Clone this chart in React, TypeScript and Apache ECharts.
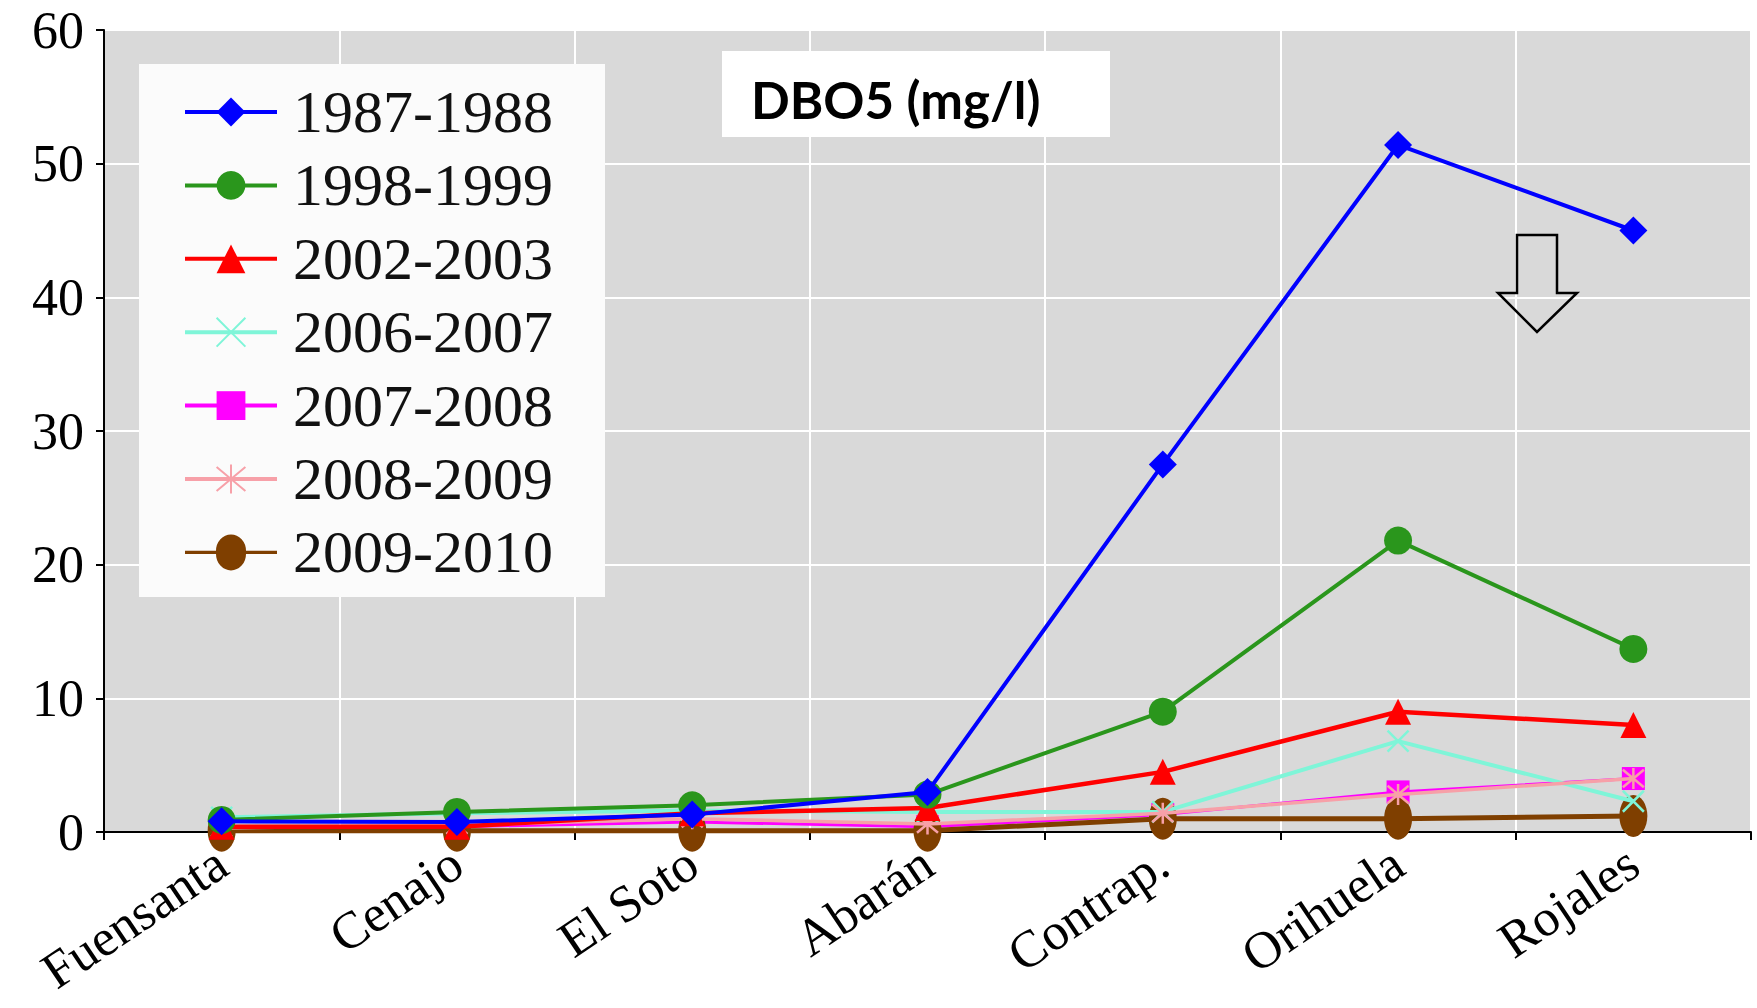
import React, { useEffect, useRef } from "react";
import * as echarts from "echarts";

const categories = ["Fuensanta", "Cenajo", "El Soto", "Abarán", "Contrap.", "Orihuela", "Rojales"];
const seriesNames = ["1987-1988", "1998-1999", "2002-2003", "2006-2007", "2007-2008", "2008-2009", "2009-2010"];
const v19871988 = [0.8, 0.75, 1.3, 3.0, 27.5, 51.4, 45.0];
const v19981999 = [0.9, 1.5, 2.0, 2.8, 9.0, 21.8, 13.7];
const v20022003 = [0.4, 0.4, 1.4, 1.8, 4.5, 9.0, 8.0];
const v20062007 = [1.1, 1.4, 1.6, 1.5, 1.5, 6.8, 2.3];
const v20072008 = [0.3, 0.4, 0.75, 0.4, 1.3, 3.0, 4.0];
const v20082009 = [0.3, 0.5, 1.0, 0.6, 1.4, 2.8, 4.0];
const v20092010 = [0.1, 0.1, 0.1, 0.1, 1.0, 1.0, 1.2];
const yMin = 0;
const yMax = 60;
const yInterval = 10;
const titleText = "DBO5 (mg/l)";

const values = [v19871988, v19981999, v20022003, v20062007, v20072008, v20082009, v20092010];
const colors = ["#0000ff", "#2a961c", "#ff0000", "#7ff5d8", "#ff00ff", "#f7a0a8", "#7f3f00"];
const symbols = [
  "diamond",
  "circle",
  "triangle",
  "path://M0,0L10,10M10,0L0,10",
  "rect",
  "path://M0,0L10,10M10,0L0,10M5,-1L5,11",
  "path://M10,0A10,14,0,1,1,10,28A10,14,0,1,1,10,0Z",
];
const symbolSizes: any[] = [28, 28, 26, 21, 23, 21, [28, 42]];
const lineWidths = [4, 4, 4.5, 4, 3, 3.5, 5];
const zs = [9, 8, 7, 4, 2, 5, 3];
// legend icon for the brown series: line + tall ellipse
const brownLegendIcon =
  "path://M0,19.5L31,19.5A15,21.5,0,0,1,61,19.5L92,19.5L92,23.5L61,23.5A15,21.5,0,0,1,31,23.5L0,23.5Z";

export default function App() {
  const ref = useRef<HTMLDivElement>(null);
  useEffect(() => {
    if (!ref.current) return;
    const chart = echarts.init(ref.current, null, { renderer: "svg" });
    const series = seriesNames.map((name, i) => ({
      name,
      type: "line",
      data: values[i],
      symbol: symbols[i],
      symbolSize: symbolSizes[i],
      showAllSymbol: true,
      z: zs[i],
      lineStyle: { color: colors[i], width: lineWidths[i] },
      itemStyle:
        i === 3 || i === 5
          ? { color: colors[i], borderColor: colors[i], borderWidth: 2.5 }
          : { color: colors[i], borderWidth: 0 },
      emphasis: { disabled: true },
    }));
    const legendData: any[] = seriesNames.map((n, i) =>
      i === 6 ? { name: n, icon: brownLegendIcon } : n
    );
    chart.setOption({
      animation: false,
      grid: {
        left: 104,
        right: 6,
        top: 30,
        bottom: 176,
        containLabel: false,
        outerBoundsMode: "none",
        show: true,
        backgroundColor: "#d9d9d9",
        borderWidth: 0,
      },
      xAxis: {
        type: "category",
        data: categories,
        boundaryGap: true,
        axisLine: { lineStyle: { color: "#000", width: 2 } },
        axisTick: { show: true, length: 8, lineStyle: { color: "#000", width: 2 } },
        axisLabel: {
          rotate: 34,
          margin: 26,
          interval: 0,
          fontFamily: "Liberation Serif",
          fontSize: 52,
          color: "#000",
        },
        splitLine: { show: true, lineStyle: { color: "#ffffff", width: 2 } },
      },
      yAxis: {
        type: "value",
        min: yMin,
        max: yMax,
        interval: yInterval,
        axisLine: { show: true, lineStyle: { color: "#000", width: 2 } },
        axisTick: { show: true, length: 8, lineStyle: { color: "#000", width: 2 } },
        axisLabel: {
          margin: 20,
          fontFamily: "Liberation Serif",
          fontSize: 52,
          color: "#000",
        },
        splitLine: { show: true, lineStyle: { color: "#ffffff", width: 2 } },
      },
      legend: {
        orient: "vertical",
        left: 183,
        top: 82,
        padding: 0,
        itemWidth: 92,
        itemHeight: 36,
        itemGap: 13.4,
        selectedMode: false,
        symbolKeepAspect: false,
        data: legendData,
        lineStyle: { width: 4 },
        textStyle: {
          fontFamily: "Liberation Serif",
          fontSize: 60,
          color: "#111",
          padding: [0, 0, 0, 11],
        },
        z: 6,
      },
      graphic: [
        {
          type: "rect",
          z: 1,
          shape: { x: 139, y: 64, width: 466, height: 533 },
          style: { fill: "#fbfbfb" },
        },
        {
          type: "rect",
          z: 1,
          shape: { x: 722, y: 51, width: 388, height: 86 },
          style: { fill: "#ffffff" },
        },
        {
          type: "text",
          z: 2,
          x: 751,
          y: 99,
          style: {
            text: titleText,
            fontFamily: "Lato",
            fontWeight: "bold",
            fontSize: 51,
            fill: "#000",
            verticalAlign: "middle",
            align: "left",
          },
        },
        {
          type: "polygon",
          z: 20,
          shape: {
            points: [
              [1517, 235],
              [1557, 235],
              [1557, 293],
              [1577, 293],
              [1537, 332],
              [1498, 293],
              [1517, 293],
            ],
          },
          style: { fill: "none", stroke: "#000", lineWidth: 2.5 },
        },
      ],
      series,
    });
    return () => chart.dispose();
  }, []);
  return (
    <div
      ref={ref}
      style={{ position: "fixed", left: 0, top: 0, width: 1757, height: 1008, background: "#fff" }}
    />
  );
}
